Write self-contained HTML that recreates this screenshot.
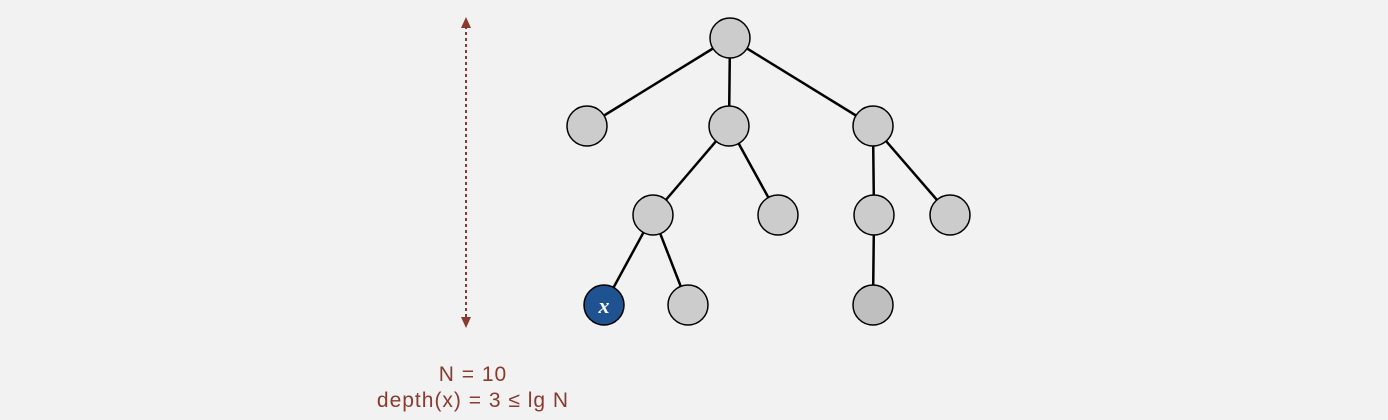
<!DOCTYPE html>
<html><head><style>body{margin:0;background:#f2f2f2}</style></head><body>
<svg width="1388" height="420" xmlns="http://www.w3.org/2000/svg" style="display:block">
<rect width="1388" height="420" fill="#f2f2f2"/>
<g stroke="#8b3a2e" stroke-width="2" fill="#8b3a2e">
<line x1="466" y1="26" x2="466" y2="318" stroke-dasharray="3,3"/>
<polygon points="461,28 471,28 466,17" stroke="none"/>
<polygon points="461,317 471,317 466,328" stroke="none"/>
</g>
<g stroke="#000" stroke-width="2.5">
<line x1="730" y1="38" x2="587" y2="126"/>
<line x1="730" y1="38" x2="729" y2="126"/>
<line x1="730" y1="38" x2="873" y2="126"/>
<line x1="729" y1="126" x2="653" y2="215"/>
<line x1="729" y1="126" x2="778" y2="215"/>
<line x1="873" y1="126" x2="874" y2="215"/>
<line x1="873" y1="126" x2="950" y2="215"/>
<line x1="653" y1="215" x2="604" y2="305"/>
<line x1="653" y1="215" x2="688" y2="305"/>
<line x1="874" y1="215" x2="873" y2="305"/>
</g>
<g fill="#cccccc" stroke="#000" stroke-width="1.5">
<circle cx="730" cy="38" r="20"/>
<circle cx="587" cy="126" r="20"/>
<circle cx="729" cy="126" r="20"/>
<circle cx="873" cy="126" r="20"/>
<circle cx="653" cy="215" r="20"/>
<circle cx="778" cy="215" r="20"/>
<circle cx="874" cy="215" r="20"/>
<circle cx="950" cy="215" r="20"/>
<circle cx="688" cy="305" r="20"/>
<circle cx="873" cy="305" r="20" fill="#bfbfbf"/>
<circle cx="604" cy="305" r="20" fill="#1f5290"/>
</g>
<text x="604" y="313" text-anchor="middle" font-family="Liberation Serif, serif" font-style="italic" font-weight="bold" font-size="22" fill="#fff">x</text>
<g font-family="Liberation Sans, sans-serif" font-size="21" fill="#8b3a2e" text-anchor="middle" letter-spacing="1">
<text x="473" y="381">N = 10</text>
<text x="473" y="407">depth(x) = 3 ≤  lg N</text>
</g>
</svg>
</body></html>
